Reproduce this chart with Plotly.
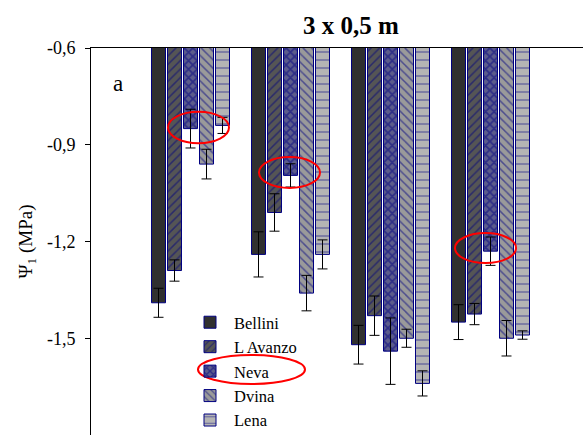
import plotly.graph_objects as go

groups = ["G1", "G2", "G3", "G4"]
series = ["Bellini", "L Avanzo", "Neva", "Dvina", "Lena"]
values = {
    "Bellini":  [-1.39, -1.24, -1.52, -1.45],
    "L Avanzo": [-1.29, -1.11, -1.43, -1.425],
    "Neva":     [-0.85, -0.995, -1.54, -1.23],
    "Dvina":    [-0.96, -1.36, -1.50, -1.50],
    "Lena":     [-0.84, -1.24, -1.64, -1.49],
}
errors = {
    "Bellini":  [0.045, 0.07, 0.06, 0.054],
    "L Avanzo": [0.033, 0.058, 0.061, 0.033],
    "Neva":     [0.06, 0.036, 0.103, 0.044],
    "Dvina":    [0.046, 0.055, 0.028, 0.055],
    "Lena":     [0.025, 0.045, 0.039, 0.013],
}
yticks = [-0.6, -0.9, -1.2, -1.5, -1.8]
yticktext = ["-0,6", "-0,9", "-1,2", "-1,5", "-1,8"]

styles = {
    "Bellini":  dict(color="#303030", pattern=dict(shape="")),
    "L Avanzo": dict(color="#555555", pattern=dict(shape="/", fgcolor="#000080", size=6, solidity=0.25)),
    "Neva":     dict(color="#5c5c8c", pattern=dict(shape="x", fgcolor="#000080", size=6, solidity=0.5)),
    "Dvina":    dict(color="#9a9a9a", pattern=dict(shape="\\", fgcolor="#000080", size=6, solidity=0.25)),
    "Lena":     dict(color="#b4b4b4", pattern=dict(shape="-", fgcolor="#000080", size=8, solidity=0.15)),
}

SERIF = "Liberation Serif, Times New Roman, serif"
fig = go.Figure()
xs = list(range(len(groups)))
for s in series:
    st = styles[s]
    fig.add_trace(go.Bar(
        x=xs, y=values[s], name=s, legendgroup=s,
        marker=dict(color=st["color"], pattern=st["pattern"],
                    line=dict(color="#000080", width=1)),
        error_y=dict(type="data", array=errors[s], color="black", thickness=1, width=5),
    ))

# red highlight ellipses
ellipses = [(-0.225, 0.385, -0.798, -0.895), (0.685, 1.295, -0.938, -1.034),
            (2.645, 3.255, -1.174, -1.267), (0.075, 1.145, -1.552, -1.642)]
for x0, x1, y0, y1 in ellipses:
    fig.add_shape(type="circle", xref="x", yref="y", x0=x0, x1=x1, y0=y0, y1=y1,
                  line=dict(color="#ff0000", width=2), layer="above")

fig.add_annotation(text="a", xref="paper", yref="paper", x=(111 - 91) / 492, y=1 - (69 - 48) / 387,
                   showarrow=False, font=dict(family=SERIF, size=23, color="black"))

fig.update_layout(
    width=583, height=435,
    margin=dict(l=91, r=0, t=48, b=0, autoexpand=False),
    paper_bgcolor="white", plot_bgcolor="white",
    barmode="group", bargap=0.2, bargroupgap=0.125,
    showlegend=True,
    legend=dict(x=(186 - 91) / 492, y=1 - (305 - 48) / 387, xanchor="left", yanchor="top",
                font=dict(family=SERIF, size=16.5, color="black"), bgcolor="rgba(0,0,0,0)",
                tracegroupgap=0, traceorder="normal", itemwidth=38),
    title=dict(text="<b>3 x 0,5 m</b>", x=351 / 583, xanchor="center", y=1 - 25 / 435, yanchor="middle",
               font=dict(family=SERIF, size=25, color="black")),
    font=dict(family=SERIF, color="black"),
)
fig.update_xaxes(range=[-0.995, 3.925], side="top", showline=True, linecolor="black", linewidth=1,
                 showticklabels=False, ticks="", showgrid=False, zeroline=False, automargin=False)
fig.update_yaxes(range=[-1.8, -0.6], tickvals=yticks, ticktext=yticktext, ticks="outside", ticklen=5,
                 tickcolor="black", showline=True, linecolor="black", linewidth=1, showgrid=False,
                 zeroline=False, automargin=False, ticklabelstandoff=6,
                 tickfont=dict(family=SERIF, size=18, color="black"),
                 title=dict(text="Ψ<sub>1</sub> (MPa)", font=dict(family=SERIF, size=19, color="black"),
                            standoff=9))
fig.write_html("out.html", config={"displayModeBar": False},
               post_script="document.body.style.margin='0';document.body.style.overflow='hidden';")
